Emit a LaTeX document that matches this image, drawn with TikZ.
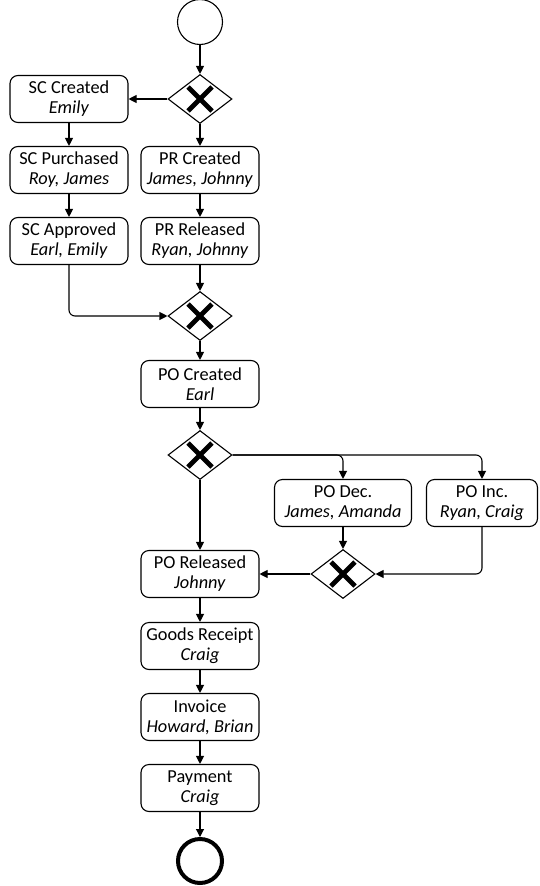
\documentclass[tikz,border=0pt]{standalone}
\usepackage{fontspec}
\setmainfont{Carlito}
\usetikzlibrary{shapes.geometric,arrows.meta}
\begin{document}
\begin{tikzpicture}[x=1pt,y=-1pt,
 task/.style={draw, rounded corners=8pt, minimum width=118pt, minimum height=47pt, align=center, inner sep=0pt, font=\fontsize{18.3}{20}\selectfont, line width=1.1pt},
 gate/.style={draw, diamond, minimum width=64pt, minimum height=49pt, inner sep=0pt, line width=1.1pt,
   path picture={\draw[line width=4.8pt]
     ([shift={(-12pt,-12pt)}]path picture bounding box.center) -- ([shift={(12pt,12pt)}]path picture bounding box.center)
     ([shift={(-12pt,12pt)}]path picture bounding box.center) -- ([shift={(12pt,-12pt)}]path picture bounding box.center);}},
 arr/.style={-{Triangle[length=8pt,width=8pt]}, line width=1.1pt},
 conn/.style={arr, rounded corners=6pt},
]
\useasboundingbox (0,0) rectangle (539,886);
\node[circle, draw, minimum size=45pt, inner sep=0pt, line width=1.1pt] (start) at (200,22) {};
\node[gate] (g1) at (200,99) {};
\node[task] (scc) at (69,99) {SC Created\\\textit{Emily}};
\node[task] (scp) at (69,170) {SC Purchased\\\textit{Roy, James}};
\node[task] (sca) at (69,241) {SC Approved\\\textit{Earl, Emily}};
\node[task] (prc) at (200,170) {PR Created\\\textit{James, Johnny}};
\node[task] (prr) at (200,241) {PR Released\\\textit{Ryan, Johnny}};
\node[gate] (g2) at (200,316) {};
\node[task] (poc) at (200,384) {PO Created\\\textit{Earl}};
\node[gate] (g3) at (200,455) {};
\node[task, minimum width=137pt] (pod) at (343,503) {PO Dec.\\\textit{James, Amanda}};
\node[task, minimum width=111pt] (poi) at (482,503) {PO Inc.\\\textit{Ryan, Craig}};
\node[gate] (g4) at (343,574) {};
\node[task] (por) at (200,574) {PO Released\\\textit{Johnny}};
\node[task] (gr) at (200,646) {Goods Receipt\\\textit{Craig}};
\node[task] (inv) at (200,717) {Invoice\\\textit{Howard, Brian}};
\node[task] (pay) at (200,788) {Payment\\\textit{Craig}};
\node[circle, draw, line width=4pt, minimum size=44pt, inner sep=0pt] (end) at (200,861) {};

\draw[arr] (start) -- (g1);
\draw[arr] (g1) -- (scc);
\draw[arr] (g1) -- (prc);
\draw[arr] (scc) -- (scp);
\draw[arr] (scp) -- (sca);
\draw[arr] (prc) -- (prr);
\draw[arr] (prr) -- (g2);
\draw[conn] (sca.south) |- (g2.west);
\draw[arr] (g2) -- (poc);
\draw[arr] (poc) -- (g3);
\draw[conn] (g3.east) -| (pod.north);
\draw[conn] (g3.east) -| (poi.north);
\draw[arr] (pod) -- (g4);
\draw[conn] (poi.south) |- (g4.east);
\draw[arr] (g4) -- (por);
\draw[arr] (g3) -- (por);
\draw[arr] (por) -- (gr);
\draw[arr] (gr) -- (inv);
\draw[arr] (inv) -- (pay);
\draw[arr] (pay) -- (end);
\end{tikzpicture}
\end{document}
